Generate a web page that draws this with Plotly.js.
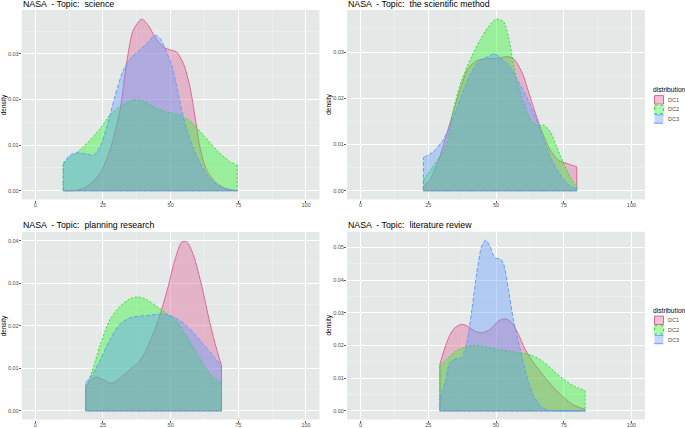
<!DOCTYPE html>
<html>
<head>
<meta charset="utf-8">
<script src="https://cdn.plot.ly/plotly-3.0.1.min.js"></script>
<style>html,body{margin:0;padding:0;background:#fff;}#chart{width:685px;height:428px;}</style>
</head>
<body>
<div id="chart"></div>
<script>
// ---------------- DATA ----------------
const seriesNames = ["DC1", "DC2", "DC3"];
const panelTitles = ["NASA  - Topic:  science", "NASA  - Topic:  the scientific method",
                     "NASA  - Topic:  planning research", "NASA  - Topic:  literature review"];
const xTickVals = [0, 25, 50, 75, 100];

// Panel 1: science
const sci_dc1_x = [10.3,15.3,19,23.9,27.6,31.3,33.7,36.2,39.3,41.7,44.2,47.3,49.8,52.2,54.7,57.1,59,60.8,63.3,67,70.7,74.6];
const sci_dc1_y = [0,0.0001,0.0009,0.0038,0.0089,0.0177,0.0279,0.0352,0.0376,0.0363,0.0337,0.0315,0.0309,0.0304,0.0279,0.0228,0.0162,0.0096,0.0045,0.0016,0.0004,0];
const sci_dc2_x = [10.3,17.7,23.9,27.6,31.3,36.2,39.9,43.6,47.3,51,54.7,58.4,62.1,67,71.9,74.6];
const sci_dc2_y = [0.0062,0.0096,0.0136,0.0166,0.0185,0.0199,0.0196,0.0185,0.0175,0.0169,0.0162,0.0146,0.0122,0.0089,0.0064,0.0056];
const sci_dc3_x = [10.3,12.8,15.9,19,21.4,23.9,26.4,29.4,32.5,35.6,38.7,41.7,44.2,46.1,47.9,50.4,52.8,55.3,58.4,61.5,64.5,68.2,71.9,74.6];
const sci_dc3_y = [0.0056,0.0078,0.0083,0.008,0.0078,0.0096,0.014,0.0206,0.0264,0.0293,0.0309,0.0326,0.0341,0.0334,0.0312,0.0275,0.0213,0.0147,0.0093,0.0053,0.0027,0.0009,0.0002,0];

// Panel 2: the scientific method
const sm_dc1_x = [23.2,25.6,29.3,33,36.7,39.8,42.9,46.6,50.2,53.9,56.4,59.5,62.6,66.3,70,73,76.1,79.8];
const sm_dc1_y = [0.0009,0.0023,0.0074,0.0146,0.0218,0.0265,0.0281,0.0285,0.0286,0.029,0.0286,0.0257,0.0203,0.0138,0.0088,0.0066,0.0059,0.0052];
const sm_dc2_x = [23.2,26.2,29.3,31.8,34.2,37.3,41,44.1,47.2,50,52.7,54.6,56.4,58.3,60.7,63.2,65.6,67.5,70,72.4,75.5,78,79.8];
const sm_dc2_y = [0.0023,0.0048,0.0074,0.0102,0.0174,0.0239,0.029,0.0326,0.0355,0.0371,0.0366,0.0333,0.0275,0.0225,0.0182,0.0149,0.0141,0.0142,0.0128,0.0095,0.0052,0.0023,0.0009];
const sm_dc3_x = [23.2,26.8,30.5,33.6,36.7,40.4,44.1,47.2,49.3,51.5,54.6,57.6,61.3,65,68.1,71.2,74.3,77.3,79.8];
const sm_dc3_y = [0.0072,0.0084,0.011,0.0149,0.0196,0.025,0.0283,0.029,0.0296,0.0288,0.0272,0.0243,0.0203,0.0153,0.0102,0.0059,0.003,0.001,0.0004];

// Panel 3: planning research
const pr_dc1_x = [18.6,20.2,22.7,25.1,28.2,31.3,35,38.1,41.1,44.2,46.7,49.1,51.6,54.1,55.9,58.4,61.5,64.5,67,68.8];
const pr_dc1_y = [0.0051,0.0071,0.0079,0.0073,0.0065,0.0076,0.0098,0.0114,0.0145,0.0192,0.0239,0.0293,0.0356,0.0397,0.0398,0.0367,0.0293,0.0207,0.0145,0.0106];
const pr_dc2_x = [18.6,20.8,23.9,27.6,31.3,35,38.1,41.1,44.8,48.5,52.2,55.9,59.6,63.3,66.4,68.8];
const pr_dc2_y = [0.0051,0.009,0.0153,0.0215,0.0246,0.0264,0.0268,0.0262,0.0246,0.0229,0.0211,0.0176,0.0137,0.0098,0.0075,0.0065];
const pr_dc3_x = [18.6,20.8,23.9,27.6,31.3,35,38.7,42.4,46.1,48.5,51.6,54.7,58.4,62.1,65.8,68.8];
const pr_dc3_y = [0.0067,0.0083,0.0118,0.0168,0.0204,0.0219,0.0223,0.0225,0.0228,0.0227,0.0219,0.0207,0.0184,0.0157,0.0129,0.0106];

// Panel 4: literature review
const lr_dc1_x = [29.3,31.8,34.2,37.3,39.8,42.2,44.7,47.8,50.9,53.3,55.8,58.3,60.7,63.8,67.5,71.2,74.9,78.6,82.9];
const lr_dc1_y = [0.0143,0.0209,0.0249,0.0265,0.0258,0.0244,0.0239,0.0249,0.0275,0.0282,0.027,0.0234,0.0189,0.0148,0.0108,0.0072,0.0042,0.0018,0.0004];
const lr_dc2_x = [29.3,31.8,35.5,39.2,42.2,45.3,50.2,55.2,60.1,63.8,67.5,71.2,74.9,78.6,82.9];
const lr_dc2_y = [0.0138,0.0158,0.0184,0.0196,0.0201,0.0197,0.0189,0.0182,0.0176,0.0168,0.015,0.0123,0.0097,0.0077,0.0062];
const lr_dc3_x = [29.3,31.2,33,34.9,37.3,39.2,41.1,42.9,44.7,46.2,47.8,49.6,51.5,52.7,54.6,56.4,58.9,61.3,63.8,66.3,68.7,72.4,82.9];
const lr_dc3_y = [0.0037,0.0087,0.0148,0.0158,0.0163,0.0209,0.031,0.0422,0.0503,0.0523,0.0503,0.0468,0.0465,0.0452,0.0371,0.028,0.0189,0.0108,0.0047,0.0016,0.0003,0,0];

// ---------------- STYLE ----------------
const W = 685, H = 428;
const lineColors = ["rgb(225,100,150)", "rgb(50,220,50)", "rgb(97,156,255)"];
const fillColors = ["rgba(225,100,150,0.4)", "rgba(40,245,40,0.4)", "rgba(97,156,255,0.4)"];
const dashes = ["solid", "2px,2px", "4px,2px"];
const panelBg = "#E4E9E8";

const panels = [
  {series: [[sci_dc1_x, sci_dc1_y], [sci_dc2_x, sci_dc2_y], [sci_dc3_x, sci_dc3_y]], px: [21.8, 319.5], py: [10, 199.5], yr: [-0.00193, 0.03963], legend: false},
  {series: [[sm_dc1_x, sm_dc1_y], [sm_dc2_x, sm_dc2_y], [sm_dc3_x, sm_dc3_y]], px: [347, 645], py: [10, 199.5], yr: [-0.0019, 0.03909], legend: true},
  {series: [[pr_dc1_x, pr_dc1_y], [pr_dc2_x, pr_dc2_y], [pr_dc3_x, pr_dc3_y]], px: [21.8, 319.5], py: [232, 419.5], yr: [-0.00204, 0.0421], legend: false},
  {series: [[lr_dc1_x, lr_dc1_y], [lr_dc2_x, lr_dc2_y], [lr_dc3_x, lr_dc3_y]], px: [347, 645], py: [231.7, 419.5], yr: [-0.00265, 0.05485], legend: true}
];

const traces = [];
const layout = {
  width: W, height: H,
  margin: {l: 0, r: 0, t: 0, b: 0},
  paper_bgcolor: "#FFFFFF",
  plot_bgcolor: panelBg,
  showlegend: false,
  font: {family: "Liberation Sans, Arial, sans-serif", color: "#000000"},
  annotations: [],
  shapes: []
};

const fx = px => px / W;
const fy = py => 1 - py / H;

panels.forEach((p, i) => {
  const sfx = i === 0 ? "" : String(i + 1);
  const xa = "x" + sfx, ya = "y" + sfx;
  layout["xaxis" + sfx] = {
    domain: [fx(p.px[0]), fx(p.px[1])], anchor: ya, range: [-5, 105],
    tickvals: xTickVals, ticktext: xTickVals.map(String),
    ticks: "outside", ticklen: 2, tickcolor: "#333333", tickwidth: 0.8,
    ticklabelstandoff: -2,
    tickfont: {size: 5.5, color: "#4D4D4D"},
    showgrid: true, gridcolor: "#FFFFFF", gridwidth: 1,
    minor: {showgrid: true, gridcolor: "#F4F6F6", gridwidth: 0.5, dtick: 12.5, tick0: 0},
    zeroline: false, showline: false, fixedrange: true
  };
  layout["yaxis" + sfx] = {
    domain: [fy(p.py[1]), fy(p.py[0])], anchor: xa, range: p.yr,
    dtick: 0.01, tick0: 0, tickformat: ".2f",
    ticks: "outside", ticklen: 2, tickcolor: "#333333", tickwidth: 0.8,
    ticklabelstandoff: -1,
    tickfont: {size: 5.5, color: "#4D4D4D"},
    showgrid: true, gridcolor: "#FFFFFF", gridwidth: 1,
    minor: {showgrid: true, gridcolor: "#F4F6F6", gridwidth: 0.5, dtick: 0.005, tick0: 0},
    zeroline: false, showline: false, fixedrange: true
  };

  p.series.forEach(([xs, ys], s) => {
    traces.push({
      type: "scatter", mode: "lines", x: xs, y: ys, xaxis: xa, yaxis: ya,
      line: {color: lineColors[s], width: 1, dash: dashes[s], shape: "spline", smoothing: 0.8},
      fill: "tozeroy", fillcolor: fillColors[s], hoverinfo: "skip", name: seriesNames[s]
    });
    const n = xs.length;
    traces.push({
      type: "scatter", mode: "lines",
      x: [xs[n - 1], xs[n - 1], xs[0], xs[0]],
      y: [ys[n - 1], 0, 0, ys[0]],
      xaxis: xa, yaxis: ya,
      line: {color: lineColors[s], width: 1, dash: dashes[s]},
      hoverinfo: "skip", showlegend: false
    });
  });

  // panel title
  const titleY = i < 2 ? 4 : 224.5;
  layout.annotations.push({
    xref: "paper", yref: "paper", x: fx(p.px[0] - 1), y: fy(titleY),
    xanchor: "left", yanchor: "middle", showarrow: false,
    text: panelTitles[i], font: {size: 8.8, color: "#000000"}
  });
  // y axis title
  const ytx = i % 2 === 0 ? 3.5 : 329;
  layout.annotations.push({
    xref: "paper", yref: "paper", x: fx(ytx), y: fy((p.py[0] + p.py[1]) / 2),
    xanchor: "center", yanchor: "middle", showarrow: false, textangle: -90,
    text: "density", font: {size: 6.5, color: "#000000"}
  });

  if (p.legend) {
    const top = i === 1 ? 90 : 310.5;
    layout.annotations.push({
      xref: "paper", yref: "paper", x: fx(651), y: fy(top),
      xanchor: "left", yanchor: "middle", showarrow: false,
      text: "distribution", font: {size: 6.7, color: "rgb(0,0,0)"}
    });
    seriesNames.forEach((nm, s) => {
      const y0 = top + 5 + s * 9.6;
      layout.shapes.push({
        type: "rect", xref: "paper", yref: "paper",
        x0: fx(654.5), x1: fx(663.5), y0: fy(y0 + 0.6), y1: fy(y0 + 9.0),
        fillcolor: fillColors[s], line: {color: lineColors[s], width: 1, dash: s === 0 ? "solid" : (s === 1 ? "dot" : "dash")}
      });
      layout.annotations.push({
        xref: "paper", yref: "paper", x: fx(666), y: fy(y0 + 4.8),
        xanchor: "left", yanchor: "middle", showarrow: false,
        text: nm, font: {size: 5.5, color: "#4D4D4D"}
      });
    });
  }
});

Plotly.newPlot("chart", traces, layout, {staticPlot: true, displayModeBar: false});
</script>
</body>
</html>
